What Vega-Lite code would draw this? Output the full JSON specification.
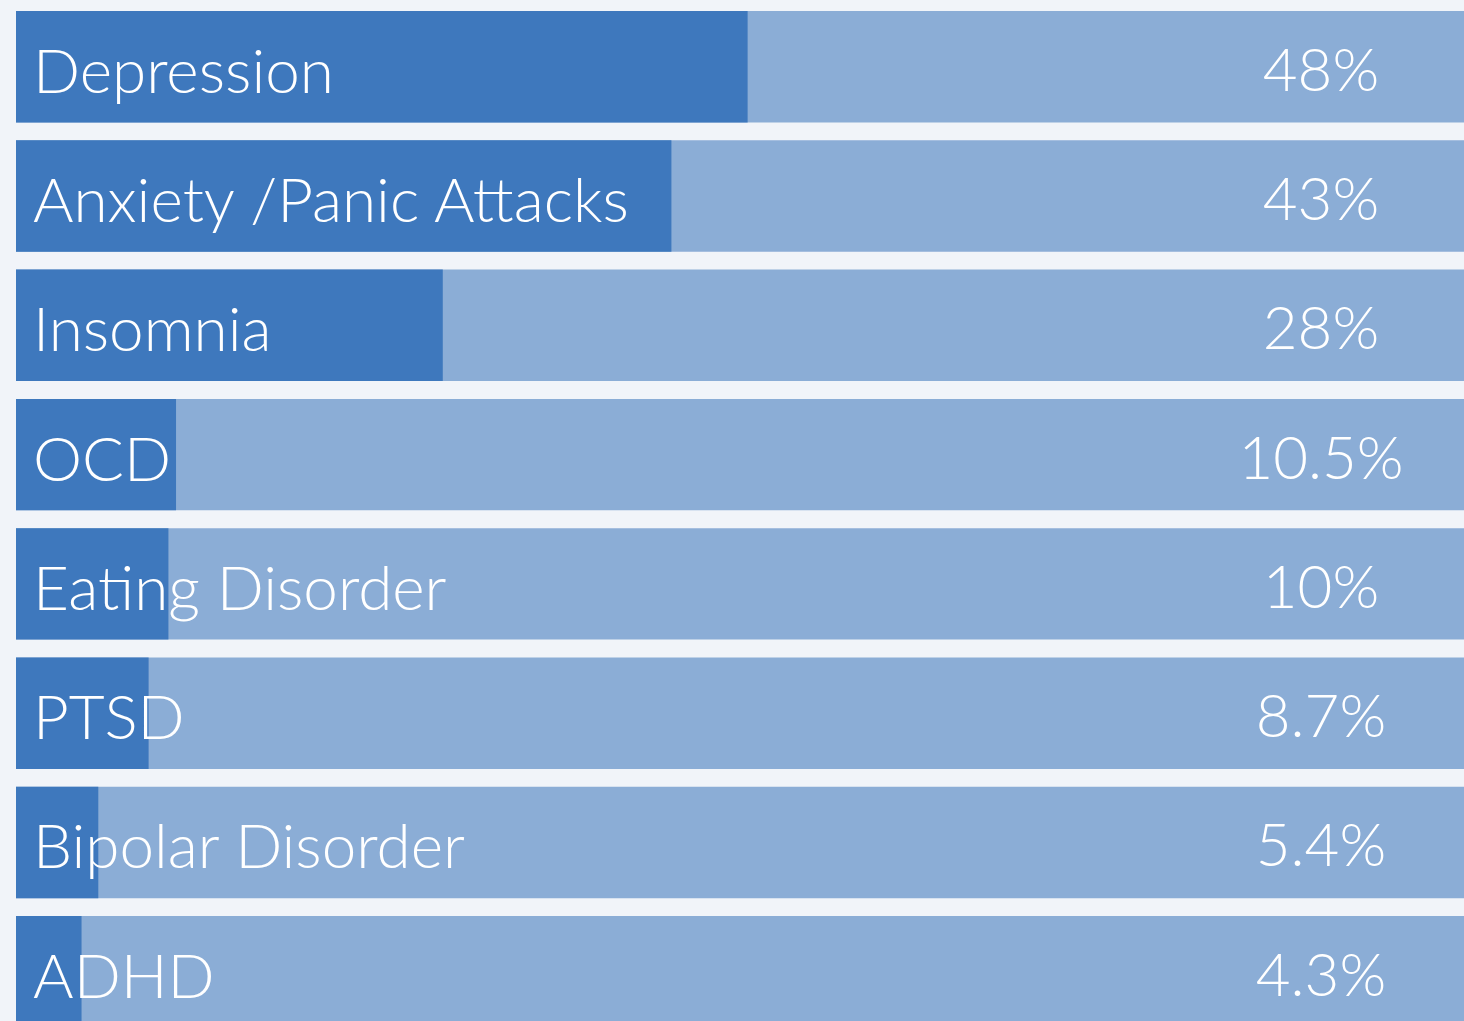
{
  "$schema": "https://vega.github.io/schema/vega-lite/v6.json",
  "autosize": "none",
  "width": 1448,
  "height": 1021,
  "padding": {"left": 16, "top": 0, "right": 0, "bottom": 0},
  "background": "#f1f4f9",
  "config": {"view": {"stroke": null}},
  "data": {
    "values": [
      {"condition": "Depression", "pct": 48, "label": "48%"},
      {"condition": "Anxiety /Panic Attacks", "pct": 43, "label": "43%"},
      {"condition": "Insomnia", "pct": 28, "label": "28%"},
      {"condition": "OCD", "pct": 10.5, "label": "10.5%"},
      {"condition": "Eating Disorder", "pct": 10, "label": "10%"},
      {"condition": "PTSD", "pct": 8.7, "label": "8.7%"},
      {"condition": "Bipolar Disorder", "pct": 5.4, "label": "5.4%"},
      {"condition": "ADHD", "pct": 4.3, "label": "4.3%"}
    ]
  },
  "encoding": {
    "y": {
      "field": "condition",
      "type": "nominal",
      "sort": null,
      "axis": null,
      "scale": {"range": [11, 1027.5], "paddingInner": 0.138, "paddingOuter": 0}
    }
  },
  "layer": [
    {
      "mark": {"type": "bar", "color": "#8badd6", "clip": true},
      "encoding": {
        "x": {"value": 0},
        "x2": {"value": "width"}
      }
    },
    {
      "mark": {"type": "bar", "color": "#3e78bd", "clip": true},
      "encoding": {
        "x": {
          "field": "pct",
          "type": "quantitative",
          "axis": null,
          "scale": {"domain": [0, 95], "nice": false, "zero": true}
        }
      }
    },
    {
      "mark": {
        "type": "text",
        "color": "white",
        "font": "Lato",
        "fontWeight": 300,
        "fontSize": 62,
        "align": "left",
        "baseline": "alphabetic",
        "dy": 26
      },
      "encoding": {
        "x": {"value": 17},
        "text": {"field": "condition"}
      }
    },
    {
      "mark": {
        "type": "text",
        "color": "white",
        "font": "Lato",
        "fontWeight": 300,
        "fontSize": 60,
        "align": "center",
        "baseline": "alphabetic",
        "dy": 24
      },
      "encoding": {
        "x": {"value": 1305},
        "text": {"field": "label"}
      }
    }
  ]
}
